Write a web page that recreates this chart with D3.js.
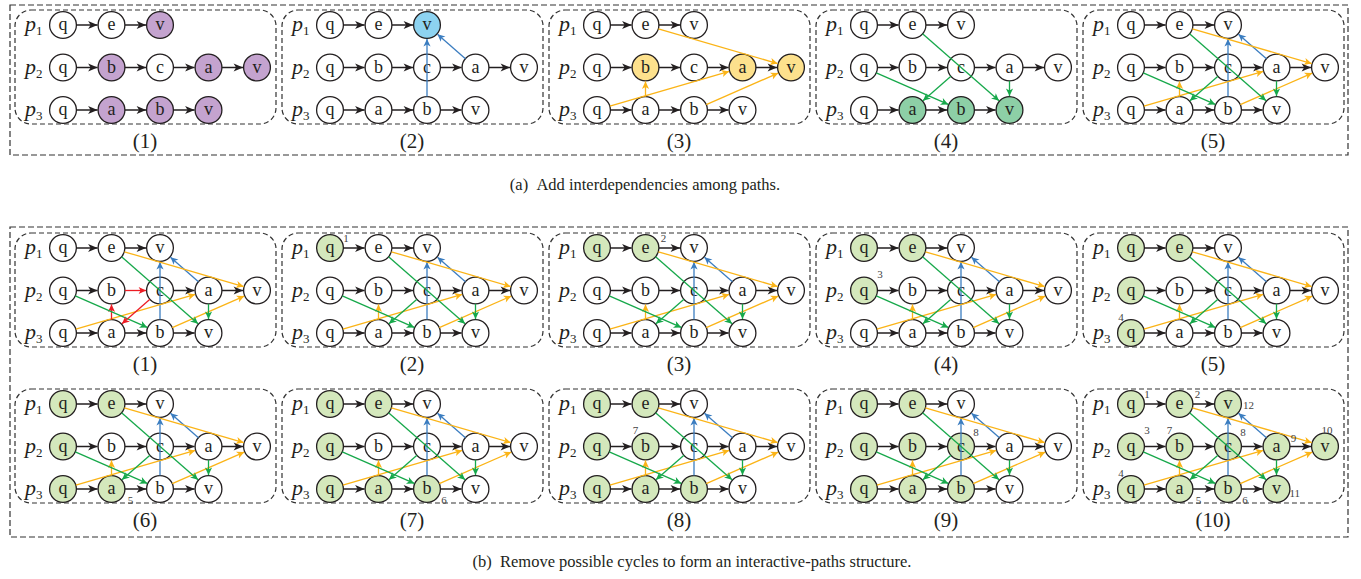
<!DOCTYPE html>
<html>
<head>
<meta charset="utf-8">
<script src="https://cdn.jsdelivr.net/npm/d3@7/dist/d3.min.js"></script>
<style>
  body { margin: 0; background: #fff; }
</style>
</head>
<body>
<svg id="chart" width="1361" height="579" font-family="'Liberation Serif', 'Times New Roman', Times, serif"></svg>
<script>
// paths p1..p3 and their vertices
const pathNames = ["p1", "p2", "p3"];
const pathNodes = [["q", "e", "v"], ["q", "b", "c", "a", "v"], ["q", "a", "b", "v"]];

// interdependency edges (from, to)
const blueEdges = [["p3.b", "p1.v"], ["p2.a", "p1.v"]];
const yellowEdges = [["p1.e", "p2.v"], ["p3.q", "p2.a"], ["p3.a", "p2.b"], ["p3.b", "p2.v"]];
const greenEdges = [["p1.e", "p3.v"], ["p2.q", "p3.b"], ["p2.c", "p3.a"], ["p2.a", "p3.v"]];
const cycleEdges = [["p2.b", "p2.c"], ["p2.c", "p3.a"], ["p3.a", "p2.b"]];

// highlighted vertices in part (a)
const purpleNodes = ["p1.v", "p2.b", "p2.a", "p2.v", "p3.a", "p3.b", "p3.v"];
const blueNodes = ["p1.v"];
const yellowNodes = ["p2.b", "p2.a", "p2.v"];
const greenNodes = ["p3.a", "p3.b", "p3.v"];

// part (b): visiting order and how many are visited in each step
const visitOrder = ["p1.q", "p1.e", "p2.q", "p3.q", "p3.a", "p3.b", "p2.b", "p2.c", "p2.a", "p2.v", "p3.v", "p1.v"];
const visitedCounts = [0, 1, 2, 3, 4, 5, 6, 7, 8, 12];

const panelLabelsA = ["(1)", "(2)", "(3)", "(4)", "(5)"];
const panelLabelsB = ["(1)", "(2)", "(3)", "(4)", "(5)", "(6)", "(7)", "(8)", "(9)", "(10)"];
const captionA = "(a)\u00a0\u00a0Add interdependencies among paths.";
const captionB = "(b)\u00a0\u00a0Remove possible cycles to form an interactive-paths structure.";

const svg = d3.select("#chart");
const R = 13.4;
const C = {
  ink: "#231f20", blue: "#3b7dc0", yellow: "#fbb417", green: "#16a84a", red: "#ec1c24",
  purple: "#c4a3cf", lblue: "#8dd3f1", lyellow: "#fde18d", mgreen: "#8dcfa6", lgreen: "#d4e8bc"
};

const panelX = d3.scaleLinear().domain([0, 4]).range([15, 15 + 267 * 4]);
const colX = d3.scaleLinear().domain([0, 4]).range([48, 48 + 4 * 48.5]);
const rowY = d3.scalePoint().domain(pathNames).range([15, 100]);

// number label offsets around a node (dx, dy, anchor)
const orderOffset = {
  "p1.q": [16, -10, "middle"], "p1.e": [18, -10, "middle"], "p1.v": [15, 1, "start"],
  "p2.q": [16, -16, "middle"], "p2.b": [-10, -16, "middle"], "p2.c": [15, -14, "middle"],
  "p2.a": [17, -8, "middle"], "p2.v": [2, -16, "middle"],
  "p3.q": [-10, -16, "middle"], "p3.a": [19, 11, "middle"], "p3.b": [17, 11, "middle"],
  "p3.v": [13, 4, "start"]
};

// markers
const defs = svg.append("defs");
function marker(id, color, big) {
  const m = defs.append("marker").attr("id", id)
    .attr("markerUnits", "userSpaceOnUse")
    .attr("viewBox", "-12 -6 14 12").attr("refX", 0).attr("refY", 0)
    .attr("markerWidth", 14).attr("markerHeight", 12).attr("orient", "auto");
  m.append("path").attr("fill", color)
    .attr("d", big ? "M0,0L-9.5,-4L-7,0L-9.5,4Z" : "M0,0L-7.5,-3.6L-5.5,0L-7.5,3.6Z");
}
marker("m-ink", C.ink, true);
marker("m-blue", C.blue, false);
marker("m-yellow", C.yellow, false);
marker("m-green", C.green, false);
marker("m-red", C.red, false);
const markerOf = { [C.ink]: "m-ink", [C.blue]: "m-blue", [C.yellow]: "m-yellow", [C.green]: "m-green", [C.red]: "m-red" };

function pos(id) {
  const [p, n] = id.split(".");
  const r = pathNames.indexOf(p);
  return { x: colX(pathNodes[r].indexOf(n)), y: rowY(p) };
}

const pathEdges = [];
pathNames.forEach((p, r) => {
  pathNodes[r].slice(1).forEach((n, i) => pathEdges.push([p + "." + pathNodes[r][i], p + "." + n]));
});

function drawPanel(x0, y0, label, opts) {
  const g = svg.append("g").attr("transform", `translate(${x0},${y0})`);
  g.append("rect").attr("x", 0).attr("y", 0).attr("width", 261).attr("height", 114)
    .attr("rx", 16).attr("fill", "none").attr("stroke", "#333")
    .attr("stroke-width", 1.2).attr("stroke-dasharray", "5,3");

  // path labels
  pathNames.forEach((p, r) => {
    const t = g.append("text").attr("x", 10).attr("y", rowY(p) + 6)
      .attr("font-size", 22).attr("fill", C.ink);
    t.append("tspan").attr("font-style", "italic").text("p");
    t.append("tspan").attr("font-size", 13).attr("dy", 4).text(String(r + 1));
  });

  // nodes
  const fills = opts.fills || {};
  pathNames.forEach((p, r) => {
    pathNodes[r].forEach((n, i) => {
      const id = p + "." + n;
      const cx = colX(i), cy = rowY(p);
      g.append("circle").attr("cx", cx).attr("cy", cy).attr("r", R)
        .attr("fill", fills[id] || "#fff").attr("stroke", C.ink).attr("stroke-width", 1.3);
      g.append("text").attr("x", cx).attr("y", cy + 5).attr("text-anchor", "middle")
        .attr("font-size", 18).attr("fill", C.ink).text(n);
    });
  });

  // edges
  const red = new Set((opts.red || []).map(e => e.join(">")));
  const all = pathEdges.map(e => [e, C.ink])
    .concat((opts.edges || []));
  all.forEach(([e, color]) => {
    const col = red.has(e.join(">")) ? C.red : color;
    const a = pos(e[0]), b = pos(e[1]);
    const dx = b.x - a.x, dy = b.y - a.y, L = Math.hypot(dx, dy);
    const ux = dx / L, uy = dy / L;
    g.append("line")
      .attr("x1", a.x + ux * R).attr("y1", a.y + uy * R)
      .attr("x2", b.x - ux * (R + 0.5)).attr("y2", b.y - uy * (R + 0.5))
      .attr("stroke", col).attr("stroke-width", col === C.ink ? 1.5 : 1.3)
      .attr("marker-end", `url(#${markerOf[col]})`);
  });

  // order numbers
  (opts.numbers || []).forEach(([id, num]) => {
    const p = pos(id), o = orderOffset[id];
    g.append("text").attr("x", p.x + o[0]).attr("y", p.y + o[1] + 3.5)
      .attr("text-anchor", o[2]).attr("font-size", 11).attr("fill", "#444").text(num);
  });

  svg.append("text").attr("x", x0 + 130).attr("y", y0 + 138).attr("text-anchor", "middle")
    .attr("font-size", 21).attr("fill", C.ink).text(label);
}

const fillMap = (ids, c) => Object.fromEntries(ids.map(id => [id, c]));
const colored = (list, c) => list.map(e => [e, c]);
const allDeps = colored(blueEdges, C.blue).concat(colored(yellowEdges, C.yellow), colored(greenEdges, C.green));

// outer frames
svg.append("rect").attr("x", 10).attr("y", 5).attr("width", 1338).attr("height", 150)
  .attr("fill", "none").attr("stroke", "#333").attr("stroke-width", 1.2).attr("stroke-dasharray", "6,3");
svg.append("rect").attr("x", 10).attr("y", 227).attr("width", 1338).attr("height", 310)
  .attr("fill", "none").attr("stroke", "#333").attr("stroke-width", 1.2).attr("stroke-dasharray", "6,3");

// part (a)
const panelsA = [
  { fills: fillMap(purpleNodes, C.purple), edges: [] },
  { fills: fillMap(blueNodes, C.lblue), edges: colored(blueEdges, C.blue) },
  { fills: fillMap(yellowNodes, C.lyellow), edges: colored(yellowEdges, C.yellow) },
  { fills: fillMap(greenNodes, C.mgreen), edges: colored(greenEdges, C.green) },
  { fills: {}, edges: allDeps }
];
panelsA.forEach((o, i) => drawPanel(panelX(i), 10, panelLabelsA[i], o));

// part (b)
visitedCounts.forEach((k, i) => {
  const visited = visitOrder.slice(0, k);
  const numbers = k === visitOrder.length
    ? visitOrder.map((id, j) => [id, j + 1])
    : (k > 0 ? [[visitOrder[k - 1], k]] : []);
  drawPanel(panelX(i % 5), i < 5 ? 233 : 389, panelLabelsB[i], {
    fills: fillMap(visited, C.lgreen),
    edges: allDeps,
    red: i === 0 ? cycleEdges : [],
    numbers: numbers
  });
});

svg.append("text").attr("x", 645).attr("y", 190).attr("text-anchor", "middle")
  .attr("font-size", 16.5).attr("fill", C.ink).text(captionA);
svg.append("text").attr("x", 692).attr("y", 567).attr("text-anchor", "middle")
  .attr("font-size", 16.5).attr("fill", C.ink).text(captionB);
</script>
</body>
</html>
